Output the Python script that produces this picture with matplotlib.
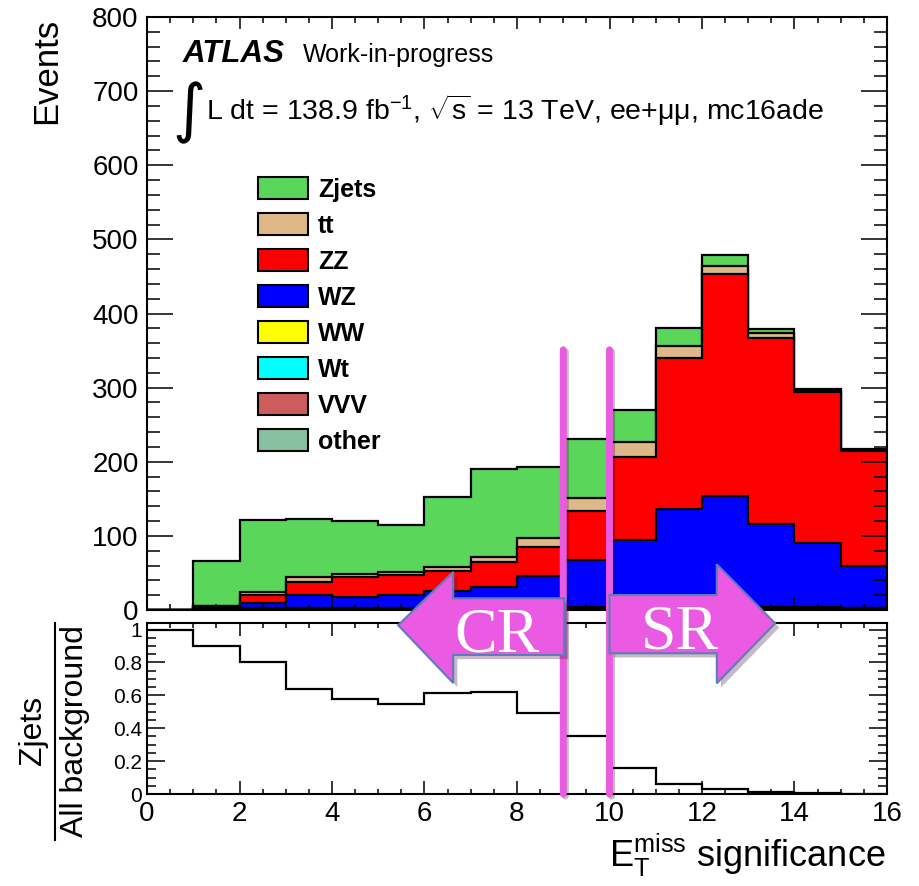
import numpy as np
import matplotlib
matplotlib.use("Agg")
import matplotlib.pyplot as plt
from matplotlib.patches import Patch, Polygon, ConnectionPatch
import matplotlib.patheffects as pe

plt.rcParams["font.family"] = ["Liberation Sans", "DejaVu Sans"]
plt.rcParams["mathtext.fontset"] = "custom"
plt.rcParams["mathtext.rm"] = "Liberation Sans"
plt.rcParams["mathtext.it"] = "Liberation Sans:italic"
plt.rcParams["mathtext.bf"] = "Liberation Sans:bold"

# bin edges of the MET significance histogram
edges = np.arange(0, 17)

# stacked backgrounds (events per bin)
zjets = [0, 60, 97, 79, 72, 64, 94.5, 119, 96, 80, 42.7, 24, 16, 5, 2, 1]
ttbar = [0, 0.5, 4.7, 6, 4, 4, 6, 7, 11.7, 16.7, 20, 15.4, 10.5, 6.8, 1.5, 1]
zz = [0, 1.5, 10, 18, 26, 27, 27, 32.5, 39, 66, 111.5, 204.6, 299, 251, 203.8, 155]
wz = [0, 2, 7.5, 17.5, 15.5, 17.5, 22.5, 29, 43, 64, 90.5, 131, 149, 111.6, 86.8, 56.7]
ww = [0, 0.2, 0.4, 0.4, 0.4, 0.5, 0.5, 0.6, 0.7, 0.8, 0.9, 1.0, 1.0, 0.9, 0.8, 0.6]
wt = [0, 0.2, 0.5, 0.5, 0.5, 0.5, 0.6, 0.6, 0.7, 0.8, 0.9, 0.9, 0.8, 0.7, 0.6, 0.5]
vvv = [0, 0.1, 0.3, 0.3, 0.3, 0.4, 0.4, 0.5, 0.6, 0.8, 1.0, 1.3, 1.4, 1.2, 1.0, 0.9]
other = [0, 1.0, 1.3, 1.3, 1.3, 1.1, 1.0, 1.0, 1.2, 1.6, 1.7, 1.8, 1.8, 1.6, 1.4, 1.2]

# Zjets / all background
ratio = [1.0, 0.90, 0.80, 0.64, 0.58, 0.545, 0.615, 0.62, 0.49, 0.35,
         0.16, 0.06, 0.03, 0.01, 0.005, 0.003]

names = ["Zjets", "tt", "ZZ", "WZ", "WW", "Wt", "VVV", "other"]
colors = ["#5ad65a", "#deb887", "#ff0000", "#0000ff", "#ffff00", "#00ffff",
          "#cd5c5c", "#86c09e"]
samples = [zjets, ttbar, zz, wz, ww, wt, vvv, other]

W, H = 919, 886
fig = plt.figure(figsize=(W / 100, H / 100), dpi=100)


def px(x, y):
    # pixel position -> figure fraction
    return x / W, 1 - y / H


ax = fig.add_axes([147 / W, 1 - 610 / H, 740 / W, 593 / H])
axr = fig.add_axes([147 / W, 1 - 794 / H, 740 / W, 171 / H])

# stack: bottom is "other", top is "Zjets"
stack = np.cumsum(np.array(samples[::-1], dtype=float), axis=0)[::-1]
for cum, c in zip(stack, colors):
    ax.stairs(cum, edges, baseline=0, fill=True, facecolor=c,
              edgecolor="black", linewidth=1.6)

ax.set_xlim(0, 16)
ax.set_ylim(0, 800)
ax.set_yticks(np.arange(0, 801, 100))
ax.set_yticks(np.arange(0, 801, 20), minor=True)
ax.set_xticks(np.arange(0, 17, 2))
ax.set_xticks(np.arange(0, 16.1, 0.5), minor=True)
ax.tick_params(axis="x", labelbottom=False)

axr.stairs(ratio, edges, baseline=None, color="black", linewidth=1.6)
axr.set_xlim(0, 16)
axr.set_ylim(0, 1.04)
axr.set_yticks([0, 0.2, 0.4, 0.6, 0.8, 1.0])
axr.set_yticklabels(["0", "0.2", "0.4", "0.6", "0.8", "1"])
axr.set_yticks(np.arange(0, 1.04, 0.05), minor=True)
axr.set_xticks(np.arange(0, 17, 2))
axr.set_xticks(np.arange(0, 16.1, 0.5), minor=True)

for a in (ax, axr):
    for s in a.spines.values():
        s.set_linewidth(1.5)
    a.tick_params(which="both", direction="in", top=True, right=True, width=1.1)

ax.tick_params(axis="y", which="major", length=19, pad=6, labelsize=20)
ax.tick_params(axis="y", which="minor", length=9.5)
ax.tick_params(axis="x", which="major", length=8.5)
ax.tick_params(axis="x", which="minor", length=4.3)
axr.tick_params(axis="y", which="major", length=13, pad=3.5, labelsize=15)
axr.tick_params(axis="y", which="minor", length=6.5)
axr.tick_params(axis="x", which="major", length=9.5, pad=5, labelsize=20)
axr.tick_params(axis="x", which="minor", length=3.6)

# axis titles
fig.text(*px(47, 18), "Events", rotation=90, ha="center", va="top", fontsize=25)
fig.text(*px(886, 867), r"$\mathrm{E}_{\mathrm{T}}^{\mathrm{miss}}$ significance",
         ha="right", va="baseline", fontsize=26)
fig.text(*px(33, 730), "Zjets", rotation=90, ha="center", va="center", fontsize=23)
fig.text(*px(75, 731), "All background", rotation=90, ha="center", va="center",
         fontsize=23)
fig.add_artist(plt.Line2D([55 / W, 55 / W], [1 - 623 / H, 1 - 840 / H],
                          color="black", linewidth=1.5))

# ATLAS label
fig.text(*px(183, 62), "ATLAS", fontsize=22.5, fontweight="bold",
         fontstyle="italic", va="baseline")
fig.text(*px(303, 62), "Work-in-progress", fontsize=18, va="baseline")
fig.text(*px(189, 113), "\u222b", fontsize=46, family="DejaVu Sans",
         va="center", ha="center")
fig.text(*px(206, 120),
         r"L dt = 138.9 fb$^{\mathregular{-1}}$, $\sqrt{\mathrm{s}}$ = 13 TeV, ee+μμ, mc16ade",
         fontsize=20.5, va="baseline")

# legend
handles = [Patch(facecolor=c, edgecolor="black", linewidth=1.5, label=n)
           for n, c in zip(names, colors)]
fig.legend(handles=handles, loc="upper left", bbox_to_anchor=px(258, 177),
           frameon=False, prop={"weight": "bold", "size": 18},
           handlelength=2.0, handleheight=1.0, labelspacing=0.45,
           handletextpad=0.4, borderpad=0, borderaxespad=0)

# CR / SR marker lines
pink = "#eb5ae2"
for xv in (9, 10):
    con = ConnectionPatch(xyA=(xv, 351), coordsA=ax.transData,
                          xyB=(xv, 0), coordsB=axr.transData,
                          color=pink, linewidth=5,
                          path_effects=[pe.SimpleLineShadow(offset=(1.5, -1.5), alpha=0.25),
                                        pe.Normal()])
    fig.add_artist(con)

shadow = [pe.SimplePatchShadow(offset=(3, -3), alpha=0.3), pe.Normal()]
cr = Polygon([(9.02, 15.8), (6.62, 15.8), (6.62, 51.5), (5.43, -20.5),
              (6.62, -98.5), (6.62, -60.7), (9.02, -60.7)],
             closed=True, transform=ax.transData, facecolor=pink,
             edgecolor="#5b7db8", linewidth=1.5, path_effects=shadow)
sr = Polygon([(10.0, 20.2), (12.32, 20.2), (12.32, 61.7), (13.58, -18),
              (12.32, -98.9), (12.32, -58.4), (10.0, -58.4)],
             closed=True, transform=ax.transData, facecolor=pink,
             edgecolor="#5b7db8", linewidth=1.5, path_effects=shadow)
fig.add_artist(cr)
fig.add_artist(sr)
fig.text(7.56, -56, "CR", transform=ax.transData, color="white", fontsize=46,
         family="Liberation Serif", ha="center", va="baseline")
fig.text(11.52, -52.6, "SR", transform=ax.transData, color="white", fontsize=46,
         family="Liberation Serif", ha="center", va="baseline")

fig.savefig("out.png", dpi=100)
